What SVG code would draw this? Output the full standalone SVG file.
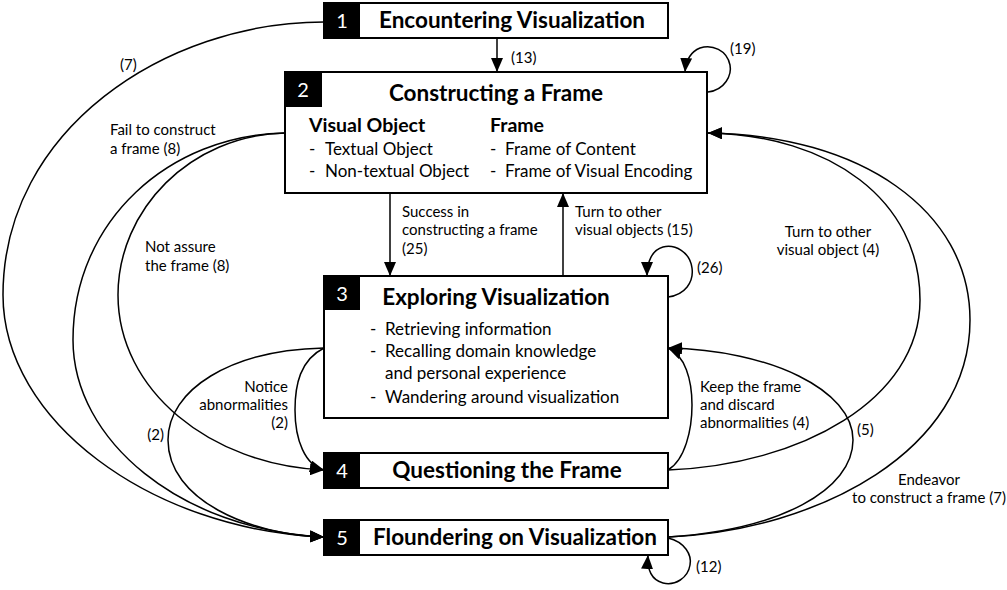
<svg xmlns="http://www.w3.org/2000/svg" width="1007" height="590" viewBox="0 0 1007 590">
  <style>
    .box { fill: #fff; stroke: #000; stroke-width: 2; }
    .tag { fill: #000; }
    .num { font-family: Lato, "Liberation Sans", sans-serif; font-size: 20px; fill: #fff; text-anchor: middle; }
    .title { font-family: Lato, "Liberation Sans", sans-serif; font-size: 22.5px; font-weight: bold; fill: #000; text-anchor: middle; }
    .head { font-family: Lato, "Liberation Sans", sans-serif; font-size: 19.5px; font-weight: bold; fill: #000; }
    .body { font-family: Lato, "Liberation Sans", sans-serif; font-size: 17px; fill: #000; }
    .lbl { font-family: Lato, "Liberation Sans", sans-serif; font-size: 15px; fill: #000; }
    .edge { fill: none; stroke: #000; stroke-width: 1.5; marker-end: url(#arrow); }
  </style>
  <defs>
    <marker id="arrow" markerUnits="userSpaceOnUse" markerWidth="14" markerHeight="12" viewBox="0 0 14 12" refX="14" refY="6" orient="auto">
      <path d="M0,0 L14,6 L0,12 Z" fill="#000"/>
    </marker>
  </defs>

  <!-- connectors -->
  <g id="connectors">
    <!-- 1 -> 2 -->
    <path class="edge" d="M497,38 L497,72"/>
    <text class="lbl" x="511" y="63">(13)</text>
    <!-- 2 self loop -->
    <path class="edge" d="M708,92 C725,90 732,75 730,65 C727,50 712,44 700,48 C690,52 686,60 685,72"/>
    <text class="lbl" x="730" y="54">(19)</text>
    <!-- 2 -> 3 -->
    <path class="edge" d="M390,193 L390,276"/>
    <text class="lbl" x="402" y="217">Success in</text>
    <text class="lbl" x="402" y="235">constructing a frame</text>
    <text class="lbl" x="402" y="254">(25)</text>
    <!-- 3 -> 2 -->
    <path class="edge" d="M563,276 L563,193"/>
    <text class="lbl" x="575" y="217">Turn to other</text>
    <text class="lbl" x="575" y="235">visual objects (15)</text>
    <!-- 3 self loop -->
    <path class="edge" d="M668,297 C685,295 694,282 692,268 C690,252 675,244 663,247 C652,250 647,262 647,276"/>
    <text class="lbl" x="697" y="273">(26)</text>
    <!-- 5 self loop -->
    <path class="edge" d="M668,538 C685,542 692,555 690,565 C688,578 675,586 663,583 C652,580 647,570 648,555"/>
    <text class="lbl" x="696" y="572">(12)</text>

    <!-- 1 -> 5 -->
    <path class="edge" d="M324,22 C165,22 3,130 3,295 C3,420 150,530 324,537"/>
    <text class="lbl" x="120" y="70">(7)</text>
    <!-- 2 -> 5 -->
    <path class="edge" d="M285,133 C170,135 73,220 73,340 C73,440 180,530 324,537"/>
    <text class="lbl" x="110" y="135">Fail to construct</text>
    <text class="lbl" x="110" y="154">a frame (8)</text>
    <!-- 2 -> 4 -->
    <path class="edge" d="M285,133 C190,135 118,210 118,295 C118,390 210,465 324,470"/>
    <text class="lbl" x="145" y="252">Not assure</text>
    <text class="lbl" x="145" y="271">the frame (8)</text>
    <!-- 3 -> 4 -->
    <path class="edge" d="M324,348 C300,360 295,385 295,410 C295,440 305,465 324,470"/>
    <text class="lbl" x="288" y="392" text-anchor="end">Notice</text>
    <text class="lbl" x="288" y="410" text-anchor="end">abnormalities</text>
    <text class="lbl" x="288" y="428" text-anchor="end">(2)</text>
    <!-- 3 -> 5 -->
    <path class="edge" d="M324,348 C230,350 168,390 168,440 C168,500 250,535 324,537"/>
    <text class="lbl" x="164" y="440" text-anchor="end">(2)</text>

    <!-- 4 -> 2 -->
    <path class="edge" d="M668,470 C800,465 920,400 920,300 C920,200 830,135 708,133"/>
    <text class="lbl" x="828" y="237" text-anchor="middle">Turn to other</text>
    <text class="lbl" x="828" y="255" text-anchor="middle">visual object (4)</text>
    <!-- 5 -> 2 -->
    <path class="edge" d="M668,537 C820,530 970,450 970,320 C970,210 860,135 708,133"/>
    <text class="lbl" x="929" y="485" text-anchor="middle">Endeavor</text>
    <text class="lbl" x="929" y="503" text-anchor="middle">to construct a frame (7)</text>
    <!-- 5 -> 3 -->
    <path class="edge" d="M668,537 C780,530 853,490 853,440 C853,390 770,350 668,348"/>
    <text class="lbl" x="857" y="435">(5)</text>
    <!-- 4 -> 3 -->
    <path class="edge" d="M668,470 C685,460 692,430 692,405 C692,380 685,355 668,348"/>
    <text class="lbl" x="700" y="392">Keep the frame</text>
    <text class="lbl" x="700" y="410">and discard</text>
    <text class="lbl" x="700" y="428">abnormalities (4)</text>
  </g>

  <!-- 1 Encountering Visualization -->
  <g id="node1">
    <rect class="box" x="324" y="3" width="344" height="35"/>
    <rect class="tag" x="324" y="3" width="36" height="35"/>
    <text class="num" x="342" y="28">1</text>
    <text class="title" x="512" y="28">Encountering Visualization</text>
  </g>

  <!-- 2 Constructing a Frame -->
  <g id="node2">
    <rect class="box" x="285" y="72" width="422" height="121"/>
    <rect class="tag" x="285" y="72" width="37" height="35"/>
    <text class="num" x="303" y="97">2</text>
    <text class="title" x="496" y="101">Constructing a Frame</text>
    <text class="head" x="309" y="132">Visual Object</text>
    <text class="body" x="309" y="155">-</text>
    <text class="body" x="325" y="155">Textual Object</text>
    <text class="body" x="309" y="177">-</text>
    <text class="body" x="325" y="177">Non-textual Object</text>
    <text class="head" x="490" y="132">Frame</text>
    <text class="body" x="490" y="155">-</text>
    <text class="body" x="505" y="155">Frame of Content</text>
    <text class="body" x="490" y="177">-</text>
    <text class="body" x="505" y="177">Frame of Visual Encoding</text>
  </g>

  <!-- 3 Exploring Visualization -->
  <g id="node3">
    <rect class="box" x="324" y="276" width="344" height="142"/>
    <rect class="tag" x="324" y="276" width="36" height="34"/>
    <text class="num" x="342" y="301">3</text>
    <text class="title" x="496" y="305">Exploring Visualization</text>
    <text class="body" x="370" y="335">-</text>
    <text class="body" x="385" y="335">Retrieving information</text>
    <text class="body" x="370" y="357">-</text>
    <text class="body" x="385" y="357">Recalling domain knowledge</text>
    <text class="body" x="385" y="379">and personal experience</text>
    <text class="body" x="370" y="403">-</text>
    <text class="body" x="385" y="403">Wandering around visualization</text>
  </g>

  <!-- 4 Questioning the Frame -->
  <g id="node4">
    <rect class="box" x="324" y="453" width="344" height="35"/>
    <rect class="tag" x="324" y="453" width="36" height="35"/>
    <text class="num" x="342" y="478">4</text>
    <text class="title" x="507" y="478">Questioning the Frame</text>
  </g>

  <!-- 5 Floundering on Visualization -->
  <g id="node5">
    <rect class="box" x="324" y="520" width="344" height="35"/>
    <rect class="tag" x="324" y="520" width="36" height="35"/>
    <text class="num" x="342" y="545">5</text>
    <text class="title" x="515" y="545">Floundering on Visualization</text>
  </g>
</svg>
